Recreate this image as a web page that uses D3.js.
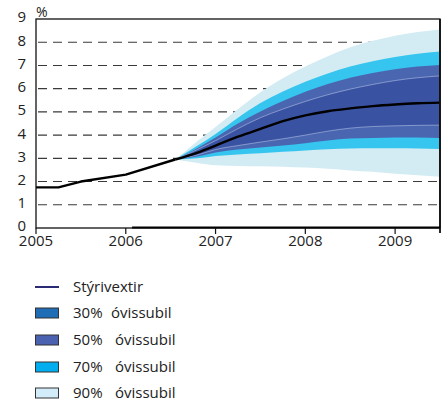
<!DOCTYPE html>
<html>
<head>
<meta charset="utf-8">
<script src="https://cdn.jsdelivr.net/npm/d3@7"></script>
<style>
  body { margin: 0; background: #fff; }
  svg { display: block; font-family: "Open Sans", sans-serif; }
</style>
</head>
<body>
<svg id="chart" width="441" height="401"></svg>
<script>
// ---- data ----
const yTicks = [0, 1, 2, 3, 4, 5, 6, 7, 8, 9];
const xTicks = [2005, 2006, 2007, 2008, 2009];
const xTickLabels = ["2005", "2006", "2007", "2008", "2009"];

const histT    = [2005, 2005.25, 2005.5, 2006, 2006.55];
const histRate = [1.75, 1.75, 2.0, 2.3, 2.95];

const fcT    = [2006.55, 2006.8, 2007.0, 2007.25, 2007.5, 2007.75, 2008.0, 2008.25, 2008.5, 2008.75, 2009.0, 2009.25, 2009.5];
const median = [2.95, 3.25, 3.55, 3.93, 4.27, 4.60, 4.85, 5.03, 5.15, 5.25, 5.32, 5.37, 5.40];
const up30   = [2.95, 3.38, 3.76, 4.28, 4.75, 5.12, 5.45, 5.74, 5.98, 6.18, 6.35, 6.47, 6.55];
const lo30   = [2.95, 3.15, 3.38, 3.55, 3.70, 3.84, 4.00, 4.17, 4.30, 4.37, 4.40, 4.42, 4.43];
const up50   = [2.95, 3.45, 3.90, 4.50, 5.02, 5.47, 5.87, 6.20, 6.47, 6.68, 6.84, 6.95, 7.02];
const lo50   = [2.95, 3.08, 3.25, 3.38, 3.47, 3.55, 3.65, 3.77, 3.85, 3.88, 3.90, 3.90, 3.88];
const up70   = [2.95, 3.55, 4.05, 4.75, 5.38, 5.88, 6.30, 6.65, 6.95, 7.18, 7.36, 7.50, 7.60];
const lo70   = [2.95, 3.00, 3.10, 3.17, 3.22, 3.28, 3.34, 3.39, 3.42, 3.43, 3.43, 3.42, 3.40];
const up90   = [2.95, 3.75, 4.35, 5.12, 5.85, 6.45, 6.95, 7.40, 7.78, 8.06, 8.28, 8.44, 8.55];
const lo90   = [2.95, 2.80, 2.70, 2.67, 2.66, 2.64, 2.60, 2.55, 2.48, 2.42, 2.34, 2.27, 2.21];

const legendLabels = ["Stýrivextir", "30%", "50%", "70%", "90%"];
const legendWord = "óvissubil";

// ---- layout ----
const svg = d3.select("#chart");
const x = d3.scaleLinear().domain([2005, 2009.5]).range([36, 440]);
const y = d3.scaleLinear().domain([0, 9]).range([228, 19]);

const bandColors = { b90: "#d3ecf3", b70: "#35c5ef", b50: "#4b66b0", b30: "#3a52a2" };

// gridlines
svg.append("g").selectAll("line").data(yTicks.filter(d => d > 0 && d < 9)).join("line")
  .attr("x1", x(2005) + 2).attr("x2", x(2009.5))
  .attr("y1", d => y(d)).attr("y2", d => y(d))
  .attr("stroke", "#3a3a3a").attr("stroke-width", 1.1)
  .attr("stroke-dasharray", "9,6");

// fan bands
const area = (lo, hi) => d3.area()
  .x((d, i) => x(fcT[i]))
  .y0((d, i) => y(lo[i]))
  .y1((d, i) => y(hi[i]))
  .curve(d3.curveMonotoneX)(fcT);

svg.append("path").attr("d", area(lo90, up90)).attr("fill", bandColors.b90);
svg.append("path").attr("d", area(lo70, up70)).attr("fill", bandColors.b70);
svg.append("path").attr("d", area(lo50, up50)).attr("fill", bandColors.b50);
svg.append("path").attr("d", area(lo30, up30)).attr("fill", bandColors.b30);

const lineGen = (arr, ts) => d3.line()
  .x((d, i) => x(ts[i])).y(d => y(d))
  .curve(d3.curveMonotoneX)(arr);

// faint boundary lines of inner band
[up30, lo30].forEach(arr => {
  svg.append("path").attr("d", lineGen(arr, fcT))
    .attr("fill", "none").attr("stroke", "rgba(200,215,240,0.55)").attr("stroke-width", 0.9);
});

// history + median line
svg.append("path").attr("d", d3.line().x((d, i) => x(histT[i])).y(d => y(d))(histRate))
  .attr("fill", "none").attr("stroke", "#000").attr("stroke-width", 2.4).attr("stroke-linejoin", "round");
svg.append("path").attr("d", lineGen(median, fcT))
  .attr("fill", "none").attr("stroke", "#000").attr("stroke-width", 2.4);

// frame
svg.append("rect").attr("x", x(2005)).attr("y", y(9))
  .attr("width", x(2009.5) - x(2005)).attr("height", y(0) - y(9))
  .attr("fill", "none").attr("stroke", "#111").attr("stroke-width", 1.3);
svg.append("line").attr("x1", x(2009.5)).attr("x2", x(2009.5)).attr("y1", y(9)).attr("y2", y(0) + 5)
  .attr("stroke", "#111").attr("stroke-width", 1.8);
svg.append("line").attr("x1", x(2006.07)).attr("x2", x(2009.5)).attr("y1", y(0) - 0.5).attr("y2", y(0) - 0.5)
  .attr("stroke", "#000").attr("stroke-width", 2);

// y axis labels
svg.append("g").selectAll("text").data(yTicks).join("text")
  .attr("x", 26).attr("y", d => y(d) - 2).attr("dy", "0.36em")
  .attr("text-anchor", "end").attr("font-size", 15).attr("fill", "#222")
  .text(d => d);
svg.append("text").attr("x", 36).attr("y", 17).attr("font-size", 14).attr("fill", "#222").text("%");

// x axis ticks & labels
svg.append("g").selectAll("line").data(xTicks).join("line")
  .attr("x1", d => x(d)).attr("x2", d => x(d)).attr("y1", y(0)).attr("y2", y(0) + 6)
  .attr("stroke", "#111").attr("stroke-width", 1.2);
svg.append("g").selectAll("text").data(xTicks).join("text")
  .attr("x", d => x(d)).attr("y", 246)
  .attr("text-anchor", "middle").attr("font-size", 15).attr("fill", "#222")
  .text((d, i) => xTickLabels[i]);

// legend
const legY = [287, 313, 340, 367, 393];
const legFill = ["none", "#1f6db5", "#4a62b0", "#00aeef", "#d3ecfa"];
const lg = svg.append("g");
lg.append("line").attr("x1", 35).attr("x2", 59).attr("y1", legY[0]).attr("y2", legY[0])
  .attr("stroke", "#2b2a75").attr("stroke-width", 2);
for (let i = 1; i < legendLabels.length; i++) {
  lg.append("rect").attr("x", 35.5).attr("y", legY[i] - 5).attr("width", 23).attr("height", 10)
    .attr("fill", legFill[i]).attr("stroke", "#333").attr("stroke-width", 1);
}
legendLabels.forEach((lab, i) => {
  const t = lg.append("text").attr("x", 73).attr("y", legY[i]).attr("dy", "0.36em")
    .attr("font-size", 15).attr("fill", "#222");
  if (i === 0) t.text(lab);
  else {
    t.append("tspan").text(lab);
    t.append("tspan").attr("x", i === 1 ? 111 : 115).text(legendWord);
  }
});
</script>
</body>
</html>
